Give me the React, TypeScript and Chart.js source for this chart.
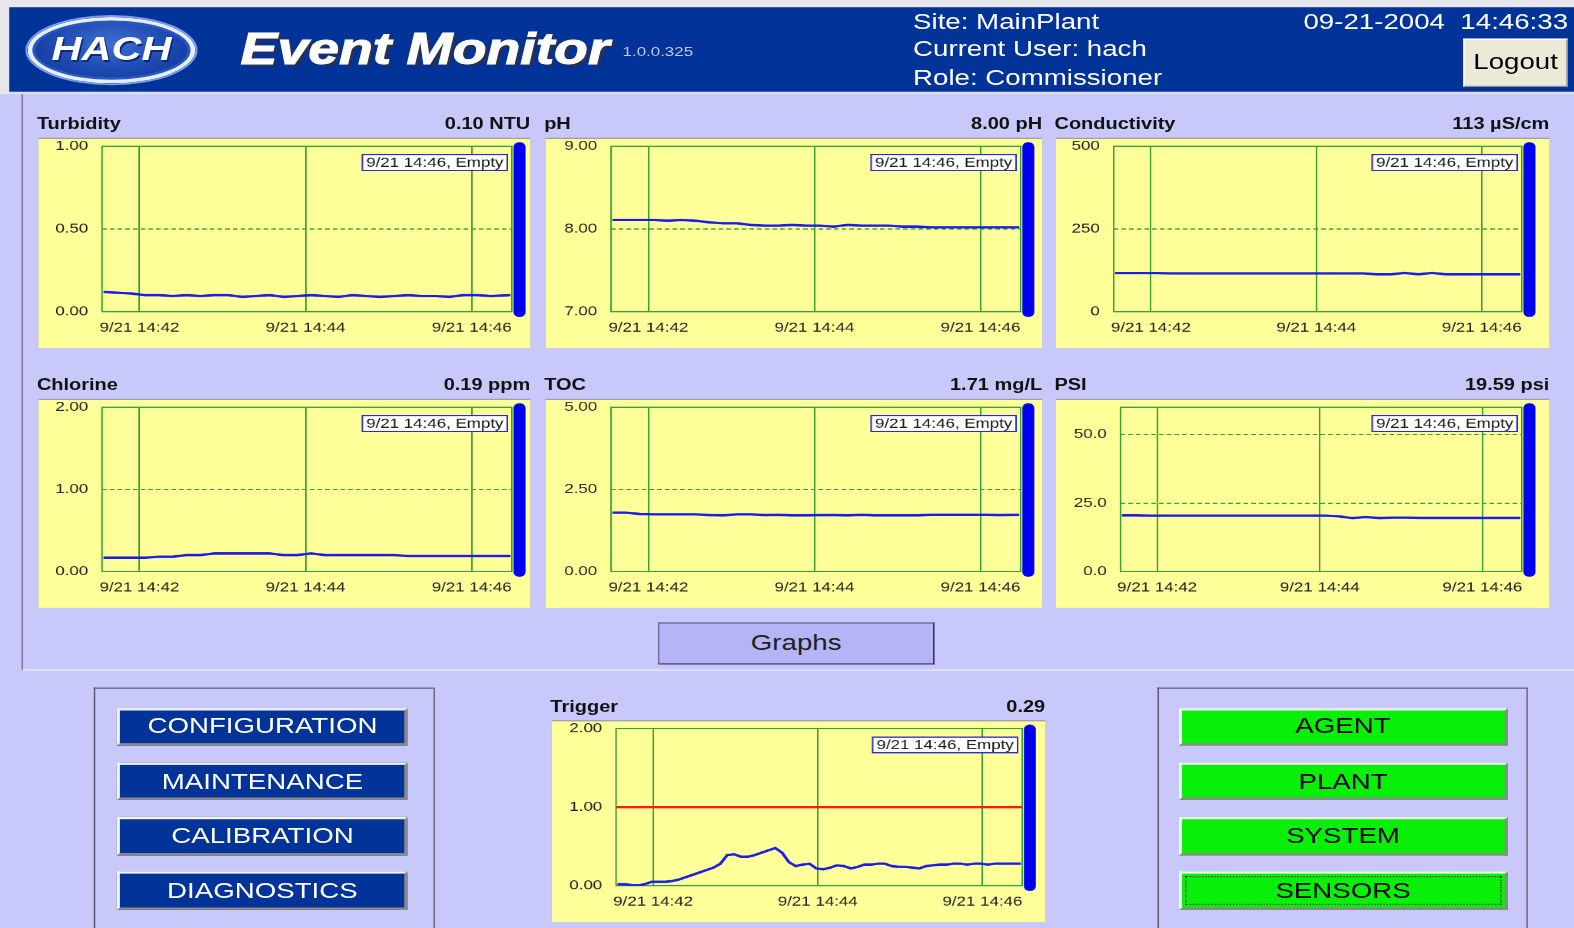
import React, { useEffect, useRef } from "react";
import { Chart, registerables } from "chart.js";

Chart.register(...registerables);

// ---------------- data (times are seconds after 14:40:00) ----------------
const sampleTimes = [94, 104, 114, 124, 134, 144, 154, 164, 174, 184, 194, 204, 214, 224, 234, 244, 254, 264, 274, 284, 294, 304, 314, 324, 334, 344, 354, 364, 374, 388];

const turbidityValues = [0.12, 0.115, 0.11, 0.10, 0.10, 0.095, 0.10, 0.095, 0.10, 0.10, 0.09, 0.095, 0.10, 0.09, 0.095, 0.10, 0.095, 0.09, 0.10, 0.095, 0.09, 0.095, 0.10, 0.095, 0.095, 0.09, 0.10, 0.10, 0.095, 0.10];
const phValues = [8.11, 8.11, 8.11, 8.11, 8.10, 8.11, 8.10, 8.08, 8.07, 8.07, 8.05, 8.04, 8.04, 8.05, 8.04, 8.04, 8.03, 8.05, 8.04, 8.04, 8.04, 8.03, 8.03, 8.02, 8.02, 8.02, 8.02, 8.02, 8.02, 8.02];
const conductivityValues = [117, 117, 117, 117, 116, 116, 116, 116, 116, 116, 116, 116, 116, 116, 116, 116, 116, 116, 116, 113, 113, 117, 113, 117, 113, 113, 113, 113, 113, 113];
const chlorineValues = [0.17, 0.17, 0.17, 0.17, 0.18, 0.18, 0.20, 0.20, 0.22, 0.22, 0.22, 0.22, 0.22, 0.20, 0.20, 0.22, 0.20, 0.20, 0.20, 0.20, 0.20, 0.20, 0.19, 0.19, 0.19, 0.19, 0.19, 0.19, 0.19, 0.19];
const tocValues = [1.79, 1.79, 1.75, 1.74, 1.74, 1.74, 1.74, 1.72, 1.71, 1.74, 1.74, 1.72, 1.73, 1.71, 1.71, 1.72, 1.72, 1.71, 1.73, 1.71, 1.71, 1.71, 1.71, 1.73, 1.73, 1.73, 1.73, 1.73, 1.72, 1.73];
const psiValues = [20.5, 20.5, 20.4, 20.4, 20.4, 20.4, 20.4, 20.4, 20.4, 20.4, 20.4, 20.4, 20.4, 20.4, 20.4, 20.4, 20.2, 19.5, 19.9, 19.5, 19.7, 19.7, 19.6, 19.6, 19.6, 19.6, 19.6, 19.6, 19.6, 19.6];

const triggerTimes = [94, 99, 104, 109, 114, 119, 124, 129, 134, 139, 144, 149, 154, 159, 164, 169, 174, 179, 184, 189, 194, 199, 204, 209, 214, 219, 224, 229, 234, 239, 244, 249, 254, 259, 264, 269, 274, 279, 284, 289, 294, 299, 304, 309, 314, 319, 324, 329, 334, 339, 344, 349, 354, 359, 364, 369, 374, 379, 384, 388];
const triggerValues = [0.02, 0.02, 0.01, 0.005, 0.02, 0.05, 0.05, 0.05, 0.06, 0.08, 0.11, 0.14, 0.17, 0.20, 0.23, 0.28, 0.39, 0.40, 0.37, 0.37, 0.39, 0.42, 0.45, 0.48, 0.42, 0.30, 0.25, 0.27, 0.28, 0.22, 0.21, 0.23, 0.26, 0.25, 0.22, 0.24, 0.27, 0.27, 0.28, 0.28, 0.25, 0.24, 0.24, 0.23, 0.22, 0.25, 0.26, 0.27, 0.27, 0.28, 0.28, 0.27, 0.28, 0.28, 0.27, 0.28, 0.28, 0.28, 0.28, 0.28];
const triggerLimitTimes = [93, 389];
const triggerLimitValues = [1.0, 1.0];

const timeAxisRange = [93, 389];
const xTickTimes = [120, 240, 360];
const xTickLabels = ["9/21 14:42", "9/21 14:44", "9/21 14:46"];

const turbidityTicks = [0, 0.5, 1];
const phTicks = [7, 8, 9];
const conductivityTicks = [0, 250, 500];
const chlorineTicks = [0, 1, 2];
const tocTicks = [0, 2.5, 5];
const psiTicks = [0, 25, 50];
const triggerTicks = [0, 1, 2];

const cursorLabel = "9/21 14:46, Empty";
const navLabels = ["CONFIGURATION", "MAINTENANCE", "CALIBRATION", "DIAGNOSTICS"];
const statusLabels = ["AGENT", "PLANT", "SYSTEM", "SENSORS"];

// ---------------- styles ----------------
const SX = 1574 / 1024;
const SY = 928 / 768;
const FONT = '"Liberation Sans", Arial, Helvetica, sans-serif';
const LAVENDER = "#c8c8fa";
const HEADER_BLUE = "#023399";
const YELLOW = "#ffff99";
const GRID_GREEN = "#38a038";
const LINE_BLUE = "#1c1ce6";
const TICK_COLOR = "#202020";

const decorPlugin = {
  id: "decor",
  beforeDatasetsDraw(chart: any) {
    const { ctx, chartArea: a } = chart;
    ctx.save();
    ctx.strokeStyle = GRID_GREEN;
    ctx.lineWidth = 1;
    ctx.strokeRect(a.left, a.top, a.right - a.left, a.bottom - a.top);
    ctx.restore();
  },
  afterDraw(chart: any) {
    const { ctx, chartArea: a } = chart;
    ctx.save();
    ctx.font = `11px ${FONT}`;
    const w = ctx.measureText(cursorLabel).width + 5;
    const h = 13;
    const x = a.right - 3 - w;
    const y = a.top + 7;
    ctx.fillStyle = "#ffffff";
    ctx.fillRect(x, y, w, h);
    ctx.strokeStyle = "#2a2ad0";
    ctx.lineWidth = 1;
    ctx.strokeRect(x, y, w, h);
    ctx.fillStyle = "#151515";
    ctx.textBaseline = "middle";
    ctx.fillText(cursorLabel, x + 2.5, y + h / 2 + 0.5);
    ctx.strokeStyle = "#0000f0";
    ctx.lineWidth = 7.8;
    ctx.lineCap = "round";
    ctx.beginPath();
    ctx.moveTo(a.right + 5, a.top + 0.5);
    ctx.lineTo(a.right + 5, a.bottom + 0.5);
    ctx.stroke();
    ctx.restore();
  },
};

type Box = { left: number; top: number; width: number; height: number };

function TrendChart(props: {
  box: Box; padRight: number; yAxisWidth: number; times: number[]; values: number[];
  yRange: number[]; yTicks: number[]; decimals: number;
  limitTimes?: number[]; limitValues?: number[];
}) {
  const ref = useRef<HTMLCanvasElement>(null);
  useEffect(() => {
    const { times, values, limitTimes, limitValues, yRange, yTicks, decimals, padRight, yAxisWidth } = props;
    const datasets: any[] = [
      {
        data: times.map((t, i) => ({ x: t, y: values[i] })),
        borderColor: LINE_BLUE, borderWidth: 2, pointRadius: 0, tension: 0, fill: false,
      },
    ];
    if (limitTimes && limitValues) {
      datasets.push({
        data: limitTimes.map((t, i) => ({ x: t, y: limitValues[i] })),
        borderColor: "#ff1a1a", borderWidth: 2, pointRadius: 0, fill: false,
      });
    }
    const tickFont = { family: FONT, size: 11 };
    const chart = new Chart(ref.current as HTMLCanvasElement, {
      type: "line",
      data: { datasets },
      options: {
        animation: false,
        responsive: false,
        devicePixelRatio: 2,
        events: [],
        layout: { padding: { left: 0, right: padRight, top: 6, bottom: 0 } },
        plugins: { legend: { display: false }, tooltip: { enabled: false } },
        scales: {
          x: {
            type: "linear",
            min: timeAxisRange[0],
            max: timeAxisRange[1],
            afterBuildTicks: (s: any) => { s.ticks = xTickTimes.map((v) => ({ value: v })); },
            afterFit: (s: any) => { s.height = 30; s.paddingLeft = 0; s.paddingRight = 0; },
            ticks: {
              callback: (_v: any, i: number) => xTickLabels[i],
              padding: 7, maxRotation: 0, autoSkip: false, font: tickFont, color: TICK_COLOR,
            },
            grid: { color: GRID_GREEN, lineWidth: 1, drawTicks: false },
            border: { display: false },
          },
          y: {
            type: "linear",
            min: yRange[0],
            max: yRange[1],
            afterBuildTicks: (s: any) => { s.ticks = yTicks.map((v) => ({ value: v })); },
            afterFit: (s: any) => { s.width = yAxisWidth; s.paddingTop = 0; s.paddingBottom = 0; },
            ticks: {
              callback: (v: any) => Number(v).toFixed(decimals),
              padding: 9, font: tickFont, color: TICK_COLOR,
            },
            grid: { color: GRID_GREEN, lineWidth: 1, drawTicks: false },
            border: { display: false, dash: [3, 2] },
          },
        },
      } as any,
      plugins: [decorPlugin as any],
    });
    return () => chart.destroy();
  }, []);
  const b = props.box;
  return (
    <div style={{ position: "absolute", left: b.left, top: b.top, width: b.width, height: b.height, background: YELLOW, boxShadow: "0 -1px 0 #9a9aa8" }}>
      <canvas ref={ref} width={b.width} height={b.height} />
    </div>
  );
}

function PanelTitle({ box, title, reading }: { box: Box; title: string; reading: string }) {
  return (
    <div style={{ position: "absolute", left: box.left - 1, top: box.top - 20.5, width: box.width + 1, height: 15, display: "flex", justifyContent: "space-between", alignItems: "center", fontWeight: 700, fontSize: 13, lineHeight: "15px", color: "#111", whiteSpace: "nowrap" }}>
      <span>{title}</span>
      <span>{reading}</span>
    </div>
  );
}

function Panel(p: {
  box: Box; padRight: number; yAxisWidth: number; title: string; reading: string; times: number[]; values: number[];
  yRange: number[]; yTicks: number[]; decimals: number; limitTimes?: number[]; limitValues?: number[];
}) {
  return (
    <>
      <PanelTitle box={p.box} title={p.title} reading={p.reading} />
      <TrendChart {...p} />
    </>
  );
}

function Button3D({ label, left, top, width, bg, color, focus }: any) {
  return (
    <div style={{ position: "absolute", left, top, width, height: 31.5, boxSizing: "border-box", background: bg, border: "2px solid", borderColor: "#f2f2f2 #8a8a8a #8a8a8a #f2f2f2", color, fontSize: 18, display: "flex", alignItems: "center", justifyContent: "center", lineHeight: 1, outline: focus ? "1px dotted #304030" : "none", outlineOffset: -5 }}>
      {label}
    </div>
  );
}

const colX = [25, 355, 687];
const colW = [320, 323, 321];
const colPadR = [12, 14, 18];
const row1Top = 115;
const row2Top = 331;
const buttonTops = [585.5, 630.8, 676, 721.3];

export default function App() {
  const b = (c: number, top: number, h: number): Box => ({ left: colX[c], top, width: colW[c], height: h });
  return (
    <div style={{ position: "fixed", left: 0, top: 0, width: 1574, height: 928, overflow: "hidden", background: LAVENDER }}>
      <div style={{ position: "absolute", left: 0, top: 0, width: 1024, height: 768, transform: `scale(${SX}, ${SY})`, transformOrigin: "0 0", fontFamily: FONT }}>
        <div style={{ position: "absolute", left: 0, top: 0, width: 1024, height: 6, background: "#e6e6ec" }} />
        <div style={{ position: "absolute", left: 0, top: 0, width: 6, height: 78, background: "#e6e6ec" }} />
        <div style={{ position: "absolute", left: 6, top: 6, width: 1018, height: 70, background: HEADER_BLUE }} />
        <div style={{ position: "absolute", left: 6, top: 76, width: 1018, height: 1.5, background: "#dcdcf4" }} />
        <div style={{ position: "absolute", left: 18, top: 14, width: 109, height: 55, borderRadius: "50%", background: "radial-gradient(ellipse at 50% 40%, #3f6fd0 0%, #1c48b0 50%, #0a2f8c 100%)", boxShadow: "inset 0 0 0 3px #e6eeff, inset 0 0 0 5px #2a58c0, 0 0 0 1.5px #7aa0e8", display: "flex", alignItems: "center", justifyContent: "center" }}>
          <span style={{ color: "#fff", fontWeight: 700, fontStyle: "italic", fontSize: 27, textShadow: "1px 1px 0 #082a80" }}>HACH</span>
        </div>
        <div style={{ position: "absolute", left: 156.5, top: 20, height: 42, lineHeight: "42px", color: "#fff", fontWeight: 700, fontStyle: "italic", fontSize: 36, whiteSpace: "nowrap", WebkitTextStroke: "0.8px #fff", textShadow: "2px 2px 1px #30304a" } as any}>Event Monitor</div>
        <div style={{ position: "absolute", left: 405, top: 34.5, lineHeight: "14px", fontSize: 11, color: "#c4c8e4", whiteSpace: "nowrap" }}>1.0.0.325</div>
        <div style={{ position: "absolute", left: 594, top: 8.3, lineHeight: "20px", fontSize: 18, color: "#fff", whiteSpace: "nowrap" }}>Site: MainPlant</div>
        <div style={{ position: "absolute", left: 594, top: 29.9, lineHeight: "20px", fontSize: 18, color: "#fff", whiteSpace: "nowrap" }}>Current User: hach</div>
        <div style={{ position: "absolute", left: 594, top: 54, lineHeight: "20px", fontSize: 18, color: "#fff", whiteSpace: "nowrap" }}>Role: Commissioner</div>
        <div style={{ position: "absolute", left: 848, top: 8.3, lineHeight: "20px", fontSize: 18, color: "#fff", whiteSpace: "pre" }}>{"09-21-2004  14:46:33"}</div>
        <div style={{ position: "absolute", left: 952, top: 31.5, width: 68, height: 40, boxSizing: "border-box", background: "#ece9d8", border: "1px solid", borderColor: "#ffffff #8c8c8c #8c8c8c #ffffff", display: "flex", alignItems: "center", justifyContent: "center", fontSize: 18, color: "#000" }}>Logout</div>

        <div style={{ position: "absolute", left: 14, top: 78, width: 1010, height: 477, boxSizing: "border-box", borderLeft: "1px solid #7c7c98", borderBottom: "1px solid #eaeaff" }} />

        <Panel box={b(0, row1Top, 173)} padRight={colPadR[0]} yAxisWidth={41.4} title="Turbidity" reading="0.10 NTU" times={sampleTimes} values={turbidityValues} yRange={[0, 1]} yTicks={turbidityTicks} decimals={2} />
        <Panel box={b(1, row1Top, 173)} padRight={colPadR[1]} yAxisWidth={42.5} title="pH" reading="8.00 pH" times={sampleTimes} values={phValues} yRange={[7, 9]} yTicks={phTicks} decimals={2} />
        <Panel box={b(2, row1Top, 173)} padRight={colPadR[2]} yAxisWidth={37.5} title="Conductivity" reading="113 µS/cm" times={sampleTimes} values={conductivityValues} yRange={[0, 500]} yTicks={conductivityTicks} decimals={0} />
        <Panel box={b(0, row2Top, 172)} padRight={colPadR[0]} yAxisWidth={41.4} title="Chlorine" reading="0.19 ppm" times={sampleTimes} values={chlorineValues} yRange={[0, 2]} yTicks={chlorineTicks} decimals={2} />
        <Panel box={b(1, row2Top, 172)} padRight={colPadR[1]} yAxisWidth={42.5} title="TOC" reading="1.71 mg/L" times={sampleTimes} values={tocValues} yRange={[0, 5]} yTicks={tocTicks} decimals={2} />
        <Panel box={b(2, row2Top, 172)} padRight={colPadR[2]} yAxisWidth={42} title="PSI" reading="19.59 psi" times={sampleTimes} values={psiValues} yRange={[0, 60]} yTicks={psiTicks} decimals={1} />

        <div style={{ position: "absolute", left: 428, top: 515, width: 180, height: 35, boxSizing: "border-box", background: "#b4b4f6", border: "1px solid", borderColor: "#505070 #303050 #303050 #7070a0", display: "flex", alignItems: "center", justifyContent: "center", fontSize: 18, color: "#202020" }}>Graphs</div>

        <div style={{ position: "absolute", left: 60.7, top: 568.5, width: 222, height: 220, boxSizing: "border-box", border: "1px solid", borderColor: "#5c5c70 #6c6c80 #6c6c80 #5c5c70" }} />
        {navLabels.map((l, i) => (
          <Button3D key={l} label={l} left={76.4} top={buttonTops[i]} width={188.7} bg={HEADER_BLUE} color="#ffffff" />
        ))}

        <Panel box={{ left: 359, top: 597, width: 321, height: 166 }} padRight={15} yAxisWidth={41.8} title="Trigger" reading="0.29" times={triggerTimes} values={triggerValues} yRange={[0, 2]} yTicks={triggerTicks} decimals={2} limitTimes={triggerLimitTimes} limitValues={triggerLimitValues} />

        <div style={{ position: "absolute", left: 752.8, top: 568.5, width: 241, height: 220, boxSizing: "border-box", border: "1px solid", borderColor: "#5c5c70 #6c6c80 #6c6c80 #5c5c70" }} />
        {statusLabels.map((l, i) => (
          <Button3D key={l} label={l} left={767} top={buttonTops[i]} width={213.5} bg="#08f008" color="#000000" focus={i === 3} />
        ))}
      </div>
    </div>
  );
}
